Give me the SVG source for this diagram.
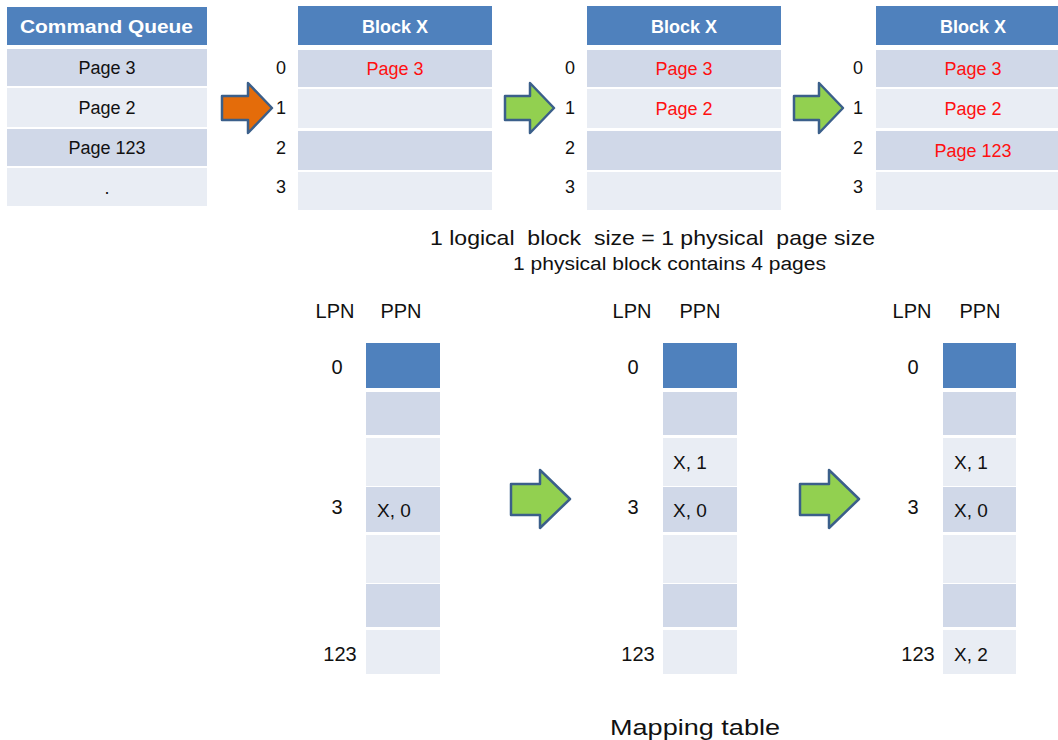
<svg xmlns="http://www.w3.org/2000/svg" width="1058" height="740" viewBox="0 0 1058 740">
<style>
text{font-family:"Liberation Sans","DejaVu Sans",sans-serif;fill:#111}
.hd{fill:#4f81bd}
.dk{fill:#d0d8e8}
.lt{fill:#e9edf4}
.ht{fill:#fff;font-weight:bold;font-size:18px;text-anchor:middle}
.ct{font-size:18px;text-anchor:middle}
.rd{fill:#ff1010;font-size:18px;text-anchor:middle}
.ix{font-size:18px;text-anchor:middle}
.lb{font-size:20px;text-anchor:middle}
.xv{font-size:19px}
.arO{fill:#e46c0a;stroke:#3b5f8a;stroke-width:2.5;stroke-linejoin:round}
.arG{fill:#92d050;stroke:#3b5f8a;stroke-width:2.5;stroke-linejoin:round}
</style>
<rect width="1058" height="740" fill="#fff"/>

<g id="command-queue">
<rect class="hd" x="7" y="7" width="200" height="38"/>
<text class="ht" x="20" y="33" textLength="173" lengthAdjust="spacingAndGlyphs" style="font-size:19px;text-anchor:start">Command Queue</text>
<rect class="dk" x="7" y="49" width="200" height="37"/>
<rect class="lt" x="7" y="88" width="200" height="39"/>
<rect class="dk" x="7" y="129" width="200" height="37"/>
<rect class="lt" x="7" y="168" width="200" height="38"/>
<text class="ct" x="107" y="74">Page 3</text>
<text class="ct" x="107" y="114">Page 2</text>
<text class="ct" x="107" y="154">Page 123</text>
<text class="ct" x="107" y="194">.</text>
</g>

<g id="block1">
<rect class="hd" x="298" y="6" width="194" height="39"/>
<text class="ht" x="395" y="33">Block X</text>
<rect class="dk" x="298" y="50" width="194" height="37"/>
<rect class="lt" x="298" y="89" width="194" height="39"/>
<rect class="dk" x="298" y="131" width="194" height="39"/>
<rect class="lt" x="298" y="172" width="194" height="38"/>
<text class="ix" x="281" y="74">0</text>
<text class="ix" x="281" y="114">1</text>
<text class="ix" x="281" y="154">2</text>
<text class="ix" x="281" y="193">3</text>
<text class="rd" x="395" y="75">Page 3</text>
</g>

<g id="block2">
<rect class="hd" x="587" y="6" width="194" height="39"/>
<text class="ht" x="684" y="33">Block X</text>
<rect class="dk" x="587" y="50" width="194" height="37"/>
<rect class="lt" x="587" y="89" width="194" height="39"/>
<rect class="dk" x="587" y="131" width="194" height="39"/>
<rect class="lt" x="587" y="172" width="194" height="38"/>
<text class="ix" x="570" y="74">0</text>
<text class="ix" x="570" y="114">1</text>
<text class="ix" x="570" y="154">2</text>
<text class="ix" x="570" y="193">3</text>
<text class="rd" x="684" y="75">Page 3</text>
<text class="rd" x="684" y="115">Page 2</text>
</g>

<g id="block3">
<rect class="hd" x="876" y="6" width="182" height="39"/>
<text class="ht" x="973" y="33">Block X</text>
<rect class="dk" x="876" y="50" width="182" height="37"/>
<rect class="lt" x="876" y="89" width="182" height="39"/>
<rect class="dk" x="876" y="131" width="182" height="39"/>
<rect class="lt" x="876" y="172" width="182" height="38"/>
<text class="ix" x="858" y="74">0</text>
<text class="ix" x="858" y="114">1</text>
<text class="ix" x="858" y="154">2</text>
<text class="ix" x="858" y="193">3</text>
<text class="rd" x="973" y="75">Page 3</text>
<text class="rd" x="973" y="115">Page 2</text>
<text class="rd" x="973" y="157">Page 123</text>
</g>

<g id="notes">
<text x="430" y="245" textLength="445" lengthAdjust="spacingAndGlyphs" style="font-size:21px;white-space:pre">1 logical  block  size = 1 physical  page size</text>
<text x="513" y="270" textLength="313" lengthAdjust="spacingAndGlyphs" style="font-size:18px">1 physical block contains 4 pages</text>
<text x="610" y="735" textLength="170" lengthAdjust="spacingAndGlyphs" style="font-size:22px">Mapping table</text>
</g>

<g id="map1">
<text class="lb" x="335" y="318">LPN</text>
<text class="lb" x="401" y="318">PPN</text>
<rect class="hd" x="366" y="343" width="74" height="45"/>
<rect class="dk" x="366" y="392" width="74" height="43"/>
<rect class="lt" x="366" y="438" width="74" height="48"/>
<rect class="dk" x="366" y="487" width="74" height="45"/>
<rect class="lt" x="366" y="535" width="74" height="48"/>
<rect class="dk" x="366" y="584" width="74" height="43"/>
<rect class="lt" x="366" y="630" width="74" height="44"/>
<text class="lb" x="337" y="374">0</text>
<text class="lb" x="337" y="514">3</text>
<text class="lb" x="340" y="661">123</text>
<text class="xv" x="377" y="517">X, 0</text>
</g>

<g id="map2">
<text class="lb" x="632" y="318">LPN</text>
<text class="lb" x="700" y="318">PPN</text>
<rect class="hd" x="663" y="343" width="74" height="45"/>
<rect class="dk" x="663" y="392" width="74" height="43"/>
<rect class="lt" x="663" y="438" width="74" height="48"/>
<rect class="dk" x="663" y="487" width="74" height="45"/>
<rect class="lt" x="663" y="535" width="74" height="48"/>
<rect class="dk" x="663" y="584" width="74" height="43"/>
<rect class="lt" x="663" y="630" width="74" height="44"/>
<text class="lb" x="633" y="374">0</text>
<text class="lb" x="633" y="514">3</text>
<text class="lb" x="638" y="661">123</text>
<text class="xv" x="673" y="469">X, 1</text>
<text class="xv" x="673" y="517">X, 0</text>
</g>

<g id="map3">
<text class="lb" x="912" y="318">LPN</text>
<text class="lb" x="980" y="318">PPN</text>
<rect class="hd" x="943" y="343" width="73" height="45"/>
<rect class="dk" x="943" y="392" width="73" height="43"/>
<rect class="lt" x="943" y="438" width="73" height="48"/>
<rect class="dk" x="943" y="487" width="73" height="45"/>
<rect class="lt" x="943" y="535" width="73" height="48"/>
<rect class="dk" x="943" y="584" width="73" height="43"/>
<rect class="lt" x="943" y="630" width="73" height="44"/>
<text class="lb" x="913" y="374">0</text>
<text class="lb" x="913" y="514">3</text>
<text class="lb" x="918" y="661">123</text>
<text class="xv" x="954" y="469">X, 1</text>
<text class="xv" x="954" y="517">X, 0</text>
<text class="xv" x="954" y="661">X, 2</text>
</g>

<g id="connectors">
<polygon class="arO" points="222,96 248,96 248,83 272,108 248,133 248,120 222,120"/>
<polygon class="arG" points="505,96 530,96 530,83 554,108 530,133 530,120 505,120"/>
<polygon class="arG" points="794,96 819,96 819,83 843,108 819,133 819,120 794,120"/>
<polygon class="arG" points="511,484 540,484 540,470 570,499 540,528 540,515 511,515"/>
<polygon class="arG" points="800,484 829,484 829,470 859,499 829,528 829,515 800,515"/>
</g>
</svg>
